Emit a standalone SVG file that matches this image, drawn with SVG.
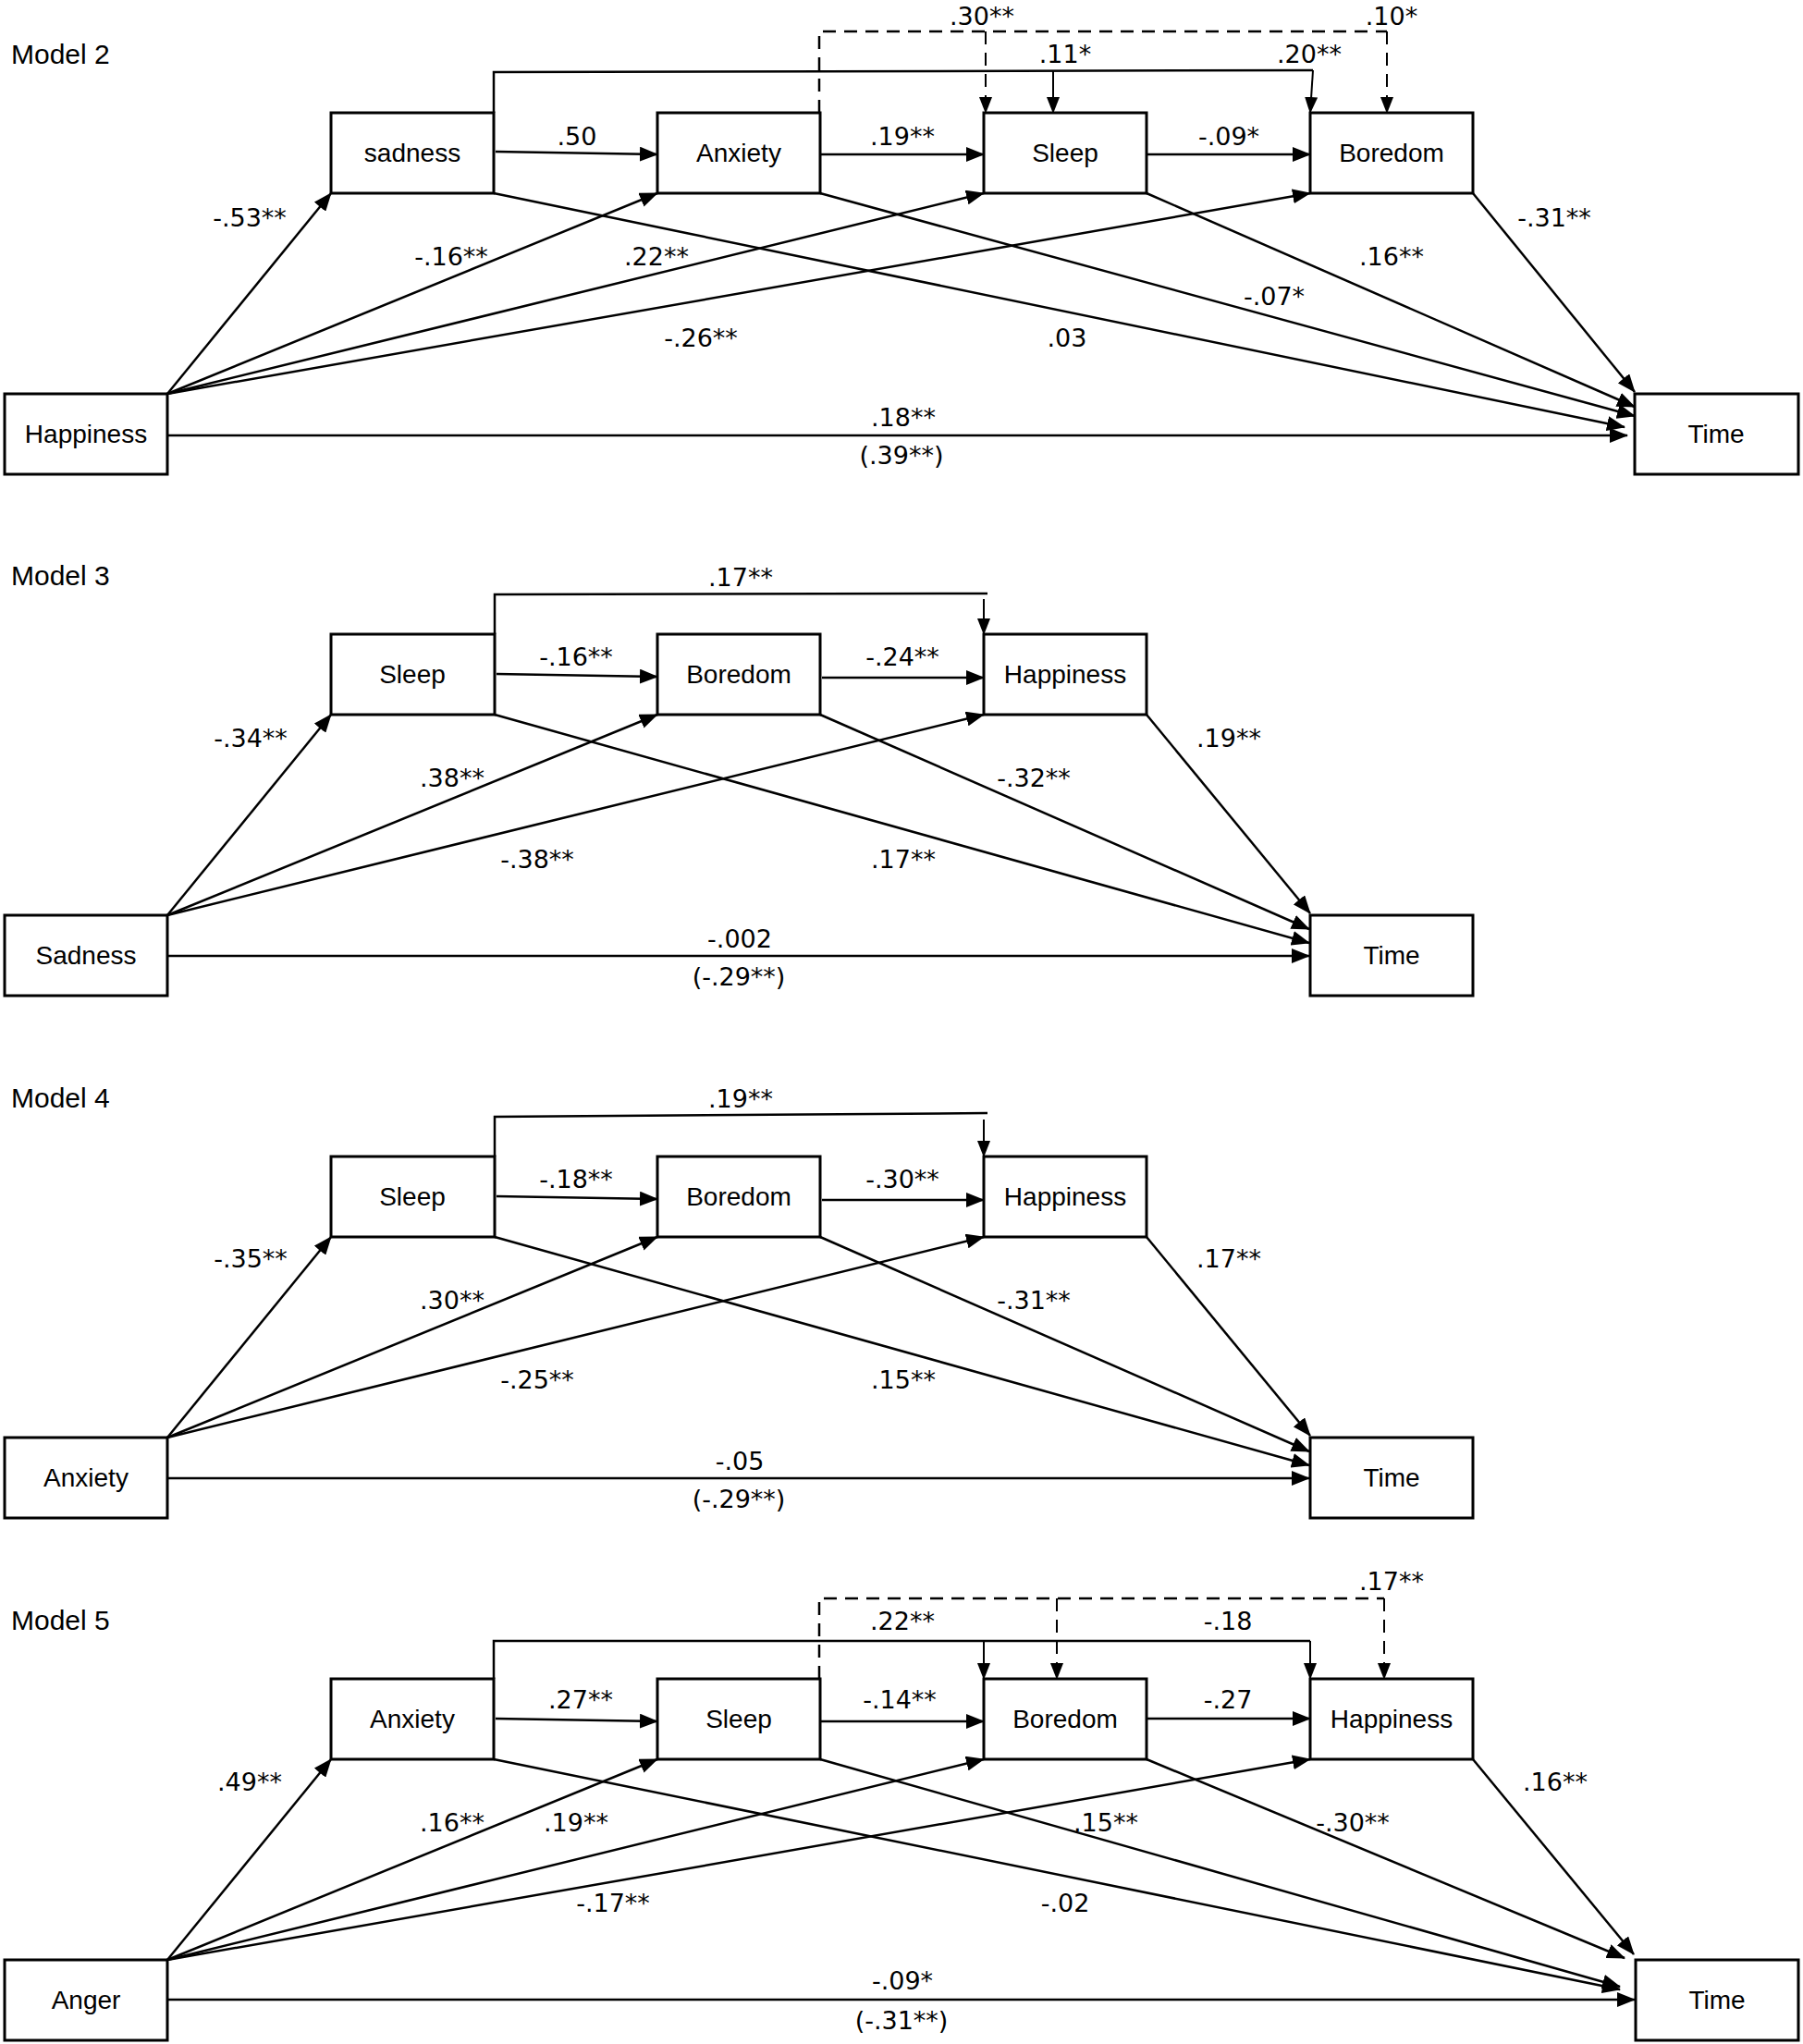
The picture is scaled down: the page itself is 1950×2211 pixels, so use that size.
<svg xmlns="http://www.w3.org/2000/svg" width="1950" height="2211" viewBox="0 0 1950 2211">
<style>
.box{fill:#fff;stroke:#000;stroke-width:3}
.lbl{font-family:"Liberation Sans",Arial,sans-serif;font-size:28px;fill:#000;text-anchor:middle}
.num{font-family:"DejaVu Sans","Liberation Sans",sans-serif;font-size:27px;fill:#000;text-anchor:middle}
.ttl{font-family:"Liberation Sans",Arial,sans-serif;font-size:30px;fill:#000}
.ln{fill:none;stroke:#000;stroke-width:2.5}
.ar{fill:none;stroke:#000;stroke-width:2.5;marker-end:url(#ah)}
.arv{fill:none;stroke:#000;stroke-width:2;marker-end:url(#ahs)}
.da{fill:none;stroke:#000;stroke-width:2.5;stroke-dasharray:14,9}
.dav{fill:none;stroke:#000;stroke-width:2;stroke-dasharray:14,9;marker-end:url(#ahs)}
</style>
<defs>
<marker id="ah" markerUnits="userSpaceOnUse" markerWidth="20" markerHeight="16" refX="19" refY="8" orient="auto"><path d="M0,0 L20,8 L0,16 z" fill="#000" stroke="none"/></marker>
<marker id="ahs" markerUnits="userSpaceOnUse" markerWidth="18" markerHeight="14" refX="17" refY="7" orient="auto"><path d="M0,0 L18,7 L0,14 z" fill="#000" stroke="none"/></marker>
</defs>
<rect width="1950" height="2211" fill="#fff"/>

<!-- ============ MODEL 2 ============ -->
<text class="ttl" x="12" y="69">Model 2</text>
<g id="m2-connectors">
<path class="ar" d="M181,426 L358,209"/>
<path class="ar" d="M181,426 L711,209"/>
<path class="ar" d="M181,426 L1064,209"/>
<path class="ar" d="M181,426 L1417,209"/>
<path class="ar" d="M534,209 L1757,462"/>
<path class="ar" d="M887,209 L1768,450"/>
<path class="ar" d="M1240,209 L1768,440"/>
<path class="ar" d="M1593,209 L1768,424"/>
<path class="ar" d="M181,471 L1760,471"/>
<path class="ar" d="M536,164 L711,167"/>
<path class="ar" d="M887,167 L1064,167"/>
<path class="ar" d="M1240,167 L1417,167"/>
<path class="ln" d="M534,122 L534,78 L1420,76"/>
<path class="arv" d="M1420,76 L1417,122"/>
<path class="arv" d="M1139,77 L1139,122"/>
<path class="da" d="M886,122 L886,34 L1500,34"/>
<path class="dav" d="M1500,34 L1500,122"/>
<path class="dav" d="M1066,34 L1066,122"/>
<text class="num" x="624" y="157">.50</text>
<text class="num" x="976" y="157">.19**</text>
<text class="num" x="1329" y="157">-.09*</text>
<text class="num" x="1062" y="27">.30**</text>
<text class="num" x="1505" y="27">.10*</text>
<text class="num" x="1152" y="68">.11*</text>
<text class="num" x="1416" y="68">.20**</text>
<text class="num" x="270" y="245">-.53**</text>
<text class="num" x="488" y="287">-.16**</text>
<text class="num" x="710" y="287">.22**</text>
<text class="num" x="1681" y="245">-.31**</text>
<text class="num" x="1505" y="287">.16**</text>
<text class="num" x="1378" y="330">-.07*</text>
<text class="num" x="758" y="375">-.26**</text>
<text class="num" x="1154" y="375">.03</text>
<text class="num" x="977" y="461">.18**</text>
<text class="num" x="975" y="502">(.39**)</text>
</g>
<g id="m2-sadness"><rect class="box" x="358" y="122" width="176" height="87"/><text class="lbl" x="446" y="175">sadness</text></g>
<g id="m2-anxiety"><rect class="box" x="711" y="122" width="176" height="87"/><text class="lbl" x="799" y="175">Anxiety</text></g>
<g id="m2-sleep"><rect class="box" x="1064" y="122" width="176" height="87"/><text class="lbl" x="1152" y="175">Sleep</text></g>
<g id="m2-boredom"><rect class="box" x="1417" y="122" width="176" height="87"/><text class="lbl" x="1505" y="175">Boredom</text></g>
<g id="m2-happiness"><rect class="box" x="5" y="426" width="176" height="87"/><text class="lbl" x="93" y="479">Happiness</text></g>
<g id="m2-time"><rect class="box" x="1768" y="426" width="177" height="87"/><text class="lbl" x="1856" y="479">Time</text></g>

<!-- ============ MODEL 3 ============ -->
<text class="ttl" x="12" y="633">Model 3</text>
<g id="m3-connectors">
<path class="ar" d="M181,990 L358,773"/>
<path class="ar" d="M181,990 L711,773"/>
<path class="ar" d="M181,990 L1064,773"/>
<path class="ar" d="M535,773 L1416,1020"/>
<path class="ar" d="M887,773 L1416,1005"/>
<path class="ar" d="M1240,773 L1417,988"/>
<path class="ar" d="M181,1034 L1416,1034"/>
<path class="ar" d="M537,729 L711,732"/>
<path class="ar" d="M889,733 L1064,733"/>
<path class="ln" d="M535,686 L535,643 L1068,642"/>
<path class="arv" d="M1064,648 L1064,686"/>
<text class="num" x="801" y="634">.17**</text>
<text class="num" x="623" y="720">-.16**</text>
<text class="num" x="976" y="720">-.24**</text>
<text class="num" x="271" y="808">-.34**</text>
<text class="num" x="1329" y="808">.19**</text>
<text class="num" x="489" y="851">.38**</text>
<text class="num" x="1118" y="851">-.32**</text>
<text class="num" x="581" y="939">-.38**</text>
<text class="num" x="977" y="939">.17**</text>
<text class="num" x="800" y="1025">-.002</text>
<text class="num" x="799" y="1066">(-.29**)</text>
</g>
<g id="m3-sleep"><rect class="box" x="358" y="686" width="177" height="87"/><text class="lbl" x="446" y="739">Sleep</text></g>
<g id="m3-boredom"><rect class="box" x="711" y="686" width="176" height="87"/><text class="lbl" x="799" y="739">Boredom</text></g>
<g id="m3-happiness"><rect class="box" x="1064" y="686" width="176" height="87"/><text class="lbl" x="1152" y="739">Happiness</text></g>
<g id="m3-sadness"><rect class="box" x="5" y="990" width="176" height="87"/><text class="lbl" x="93" y="1043">Sadness</text></g>
<g id="m3-time"><rect class="box" x="1417" y="990" width="176" height="87"/><text class="lbl" x="1505" y="1043">Time</text></g>

<!-- ============ MODEL 4 ============ -->
<text class="ttl" x="12" y="1198">Model 4</text>
<g id="m4-connectors">
<path class="ar" d="M181,1555 L358,1338"/>
<path class="ar" d="M181,1555 L711,1338"/>
<path class="ar" d="M181,1555 L1064,1338"/>
<path class="ar" d="M535,1338 L1416,1585"/>
<path class="ar" d="M887,1338 L1416,1570"/>
<path class="ar" d="M1240,1338 L1417,1553"/>
<path class="ar" d="M181,1599 L1416,1599"/>
<path class="ar" d="M537,1294 L711,1297"/>
<path class="ar" d="M889,1298 L1064,1298"/>
<path class="ln" d="M535,1251 L535,1208 L1068,1204"/>
<path class="arv" d="M1064,1211 L1064,1251"/>
<text class="num" x="801" y="1198">.19**</text>
<text class="num" x="623" y="1285">-.18**</text>
<text class="num" x="976" y="1285">-.30**</text>
<text class="num" x="271" y="1371">-.35**</text>
<text class="num" x="1329" y="1371">.17**</text>
<text class="num" x="489" y="1416">.30**</text>
<text class="num" x="1118" y="1416">-.31**</text>
<text class="num" x="581" y="1502">-.25**</text>
<text class="num" x="977" y="1502">.15**</text>
<text class="num" x="800" y="1590">-.05</text>
<text class="num" x="799" y="1631">(-.29**)</text>
</g>
<g id="m4-sleep"><rect class="box" x="358" y="1251" width="177" height="87"/><text class="lbl" x="446" y="1304">Sleep</text></g>
<g id="m4-boredom"><rect class="box" x="711" y="1251" width="176" height="87"/><text class="lbl" x="799" y="1304">Boredom</text></g>
<g id="m4-happiness"><rect class="box" x="1064" y="1251" width="176" height="87"/><text class="lbl" x="1152" y="1304">Happiness</text></g>
<g id="m4-anxiety"><rect class="box" x="5" y="1555" width="176" height="87"/><text class="lbl" x="93" y="1608">Anxiety</text></g>
<g id="m4-time"><rect class="box" x="1417" y="1555" width="176" height="87"/><text class="lbl" x="1505" y="1608">Time</text></g>

<!-- ============ MODEL 5 ============ -->
<text class="ttl" x="12" y="1763">Model 5</text>
<g id="m5-connectors">
<path class="ar" d="M181,2120 L358,1903"/>
<path class="ar" d="M181,2120 L711,1903"/>
<path class="ar" d="M181,2120 L1064,1903"/>
<path class="ar" d="M181,2120 L1417,1903"/>
<path class="ar" d="M534,1903 L1752,2152"/>
<path class="ar" d="M887,1903 L1752,2149"/>
<path class="ar" d="M1240,1903 L1757,2118"/>
<path class="ar" d="M1593,1903 L1767,2114"/>
<path class="ar" d="M181,2163 L1768,2163"/>
<path class="ar" d="M536,1859 L711,1862"/>
<path class="ar" d="M887,1862 L1064,1862"/>
<path class="ar" d="M1240,1859 L1417,1859"/>
<path class="ln" d="M534,1816 L534,1775 L1417,1775"/>
<path class="arv" d="M1417,1775 L1417,1816"/>
<path class="arv" d="M1064,1775 L1064,1816"/>
<path class="da" d="M886,1816 L886,1729 L1497,1729"/>
<path class="dav" d="M1497,1729 L1497,1816"/>
<path class="dav" d="M1143,1729 L1143,1816"/>
<text class="num" x="628" y="1848">.27**</text>
<text class="num" x="973" y="1848">-.14**</text>
<text class="num" x="1328" y="1848">-.27</text>
<text class="num" x="976" y="1763">.22**</text>
<text class="num" x="1328" y="1763">-.18</text>
<text class="num" x="1505" y="1720">.17**</text>
<text class="num" x="270" y="1937">.49**</text>
<text class="num" x="489" y="1981">.16**</text>
<text class="num" x="623" y="1981">.19**</text>
<text class="num" x="1196" y="1981">.15**</text>
<text class="num" x="1463" y="1981">-.30**</text>
<text class="num" x="1682" y="1937">.16**</text>
<text class="num" x="663" y="2068">-.17**</text>
<text class="num" x="1152" y="2068">-.02</text>
<text class="num" x="976" y="2152">-.09*</text>
<text class="num" x="975" y="2195">(-.31**)</text>
</g>
<g id="m5-anxiety"><rect class="box" x="358" y="1816" width="176" height="87"/><text class="lbl" x="446" y="1869">Anxiety</text></g>
<g id="m5-sleep"><rect class="box" x="711" y="1816" width="176" height="87"/><text class="lbl" x="799" y="1869">Sleep</text></g>
<g id="m5-boredom"><rect class="box" x="1064" y="1816" width="176" height="87"/><text class="lbl" x="1152" y="1869">Boredom</text></g>
<g id="m5-happiness"><rect class="box" x="1417" y="1816" width="176" height="87"/><text class="lbl" x="1505" y="1869">Happiness</text></g>
<g id="m5-anger"><rect class="box" x="5" y="2120" width="176" height="87"/><text class="lbl" x="93" y="2173">Anger</text></g>
<g id="m5-time"><rect class="box" x="1769" y="2120" width="176" height="87"/><text class="lbl" x="1857" y="2173">Time</text></g>
</svg>
